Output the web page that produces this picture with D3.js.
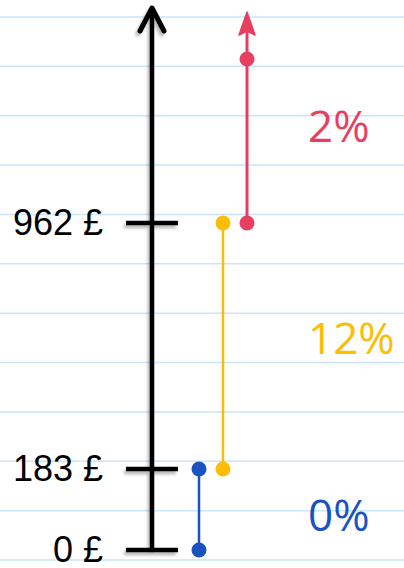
<!DOCTYPE html>
<html>
<head>
<meta charset="utf-8">
<script src="https://cdn.jsdelivr.net/npm/d3@7"></script>
<style>
  html, body { margin: 0; padding: 0; background: #fff; }
  svg { display: block; }
</style>
</head>
<body>
<svg id="chart" width="404" height="568"></svg>
<script>
// income thresholds (£) shown on the axis
const thresholds = [0, 183, 962]
const tickLabels = ['0 £', '183 £', '962 £']
// rate bands: from threshold to next threshold (last one is open ended)
const bandRates = ['0%', '12%', '2%']
const bandColors = ['#1a52c2', '#fdbd06', '#e73f62']

const width = 404
const height = 568
const svg = d3.select('#chart')

const defs = svg.append('defs')
const shadow = defs.append('filter').attr('id', 'shadow').attr('x', '-50%').attr('y', '-50%').attr('width', '200%').attr('height', '200%')
shadow.append('feDropShadow').attr('dx', -2).attr('dy', 3).attr('stdDeviation', 1.6).attr('flood-color', '#000').attr('flood-opacity', 0.28)

// notebook lines
const ruleScale = d3.scaleLinear().domain([0, 11]).range([17, 560])
svg.append('g')
	.selectAll('line')
	.data(d3.range(12))
	.join('line')
	.attr('x1', 0)
	.attr('x2', width)
	.attr('y1', d => ruleScale(d))
	.attr('y2', d => ruleScale(d))
	.attr('stroke', '#c9e5f7')
	.attr('stroke-width', 1.5)

// schematic (not proportional) vertical scale
const y = d3.scaleLinear().domain(thresholds).range([550, 469, 223])
const openTop = 59
const axisX = 152

const bandX = d3.scalePoint().domain(bandRates).range([199, 247])

const bands = bandRates.map((rate, i) => ({
	rate,
	color: bandColors[i],
	y0: y(thresholds[i]),
	y1: i + 1 < thresholds.length ? y(thresholds[i + 1]) : openTop,
	open: i + 1 >= thresholds.length,
}))

// axis
const axis = svg.append('g').attr('filter', 'url(#shadow)').attr('stroke', '#000').attr('fill', 'none').attr('stroke-linecap', 'round').attr('stroke-linejoin', 'round')
axis.append('line').attr('x1', axisX).attr('x2', axisX).attr('y1', y(0)).attr('y2', 9).attr('stroke-width', 4.5)
axis.append('path').attr('d', `M${axisX - 12},31 L${axisX},8 L${axisX + 12},31`).attr('stroke-width', 5)
axis.selectAll('.tick')
	.data(thresholds)
	.join('line')
	.attr('class', 'tick')
	.attr('x1', axisX - 26)
	.attr('x2', axisX + 26)
	.attr('y1', d => y(d))
	.attr('y2', d => y(d))
	.attr('stroke-width', 4.5)
	.attr('stroke-linecap', 'butt')

svg.append('g')
	.selectAll('text')
	.data(thresholds)
	.join('text')
	.attr('x', 103)
	.attr('y', d => y(d) + 12)
	.attr('text-anchor', 'end')
	.style('font-family', "'Liberation Sans', Arial, sans-serif")
	.style('font-size', '36px')
	.attr('fill', '#000')
	.text((d, i) => tickLabels[i])

// band segments
const segs = svg.append('g')
segs.selectAll('line')
	.data(bands)
	.join('line')
	.attr('x1', d => bandX(d.rate))
	.attr('x2', d => bandX(d.rate))
	.attr('y1', d => d.y0)
	.attr('y2', d => (d.open ? 22 : d.y1))
	.attr('stroke', d => d.color)
	.attr('stroke-width', d => (d.open ? 3 : 2.5))

bands.filter(d => d.open).forEach(d => {
	const x = bandX(d.rate)
	segs.append('path')
		.attr('d', `M${x},12 L${x + 8},35 L${x},31 L${x - 8},35 Z`)
		.attr('fill', d.color)
		.attr('stroke', d.color)
		.attr('stroke-width', 1.5)
		.attr('stroke-linejoin', 'round')
})

segs.selectAll('.dot')
	.data(bands.flatMap(d => [{ ...d, cy: d.y0 }, { ...d, cy: d.y1 }]))
	.join('circle')
	.attr('class', 'dot')
	.attr('cx', d => bandX(d.rate))
	.attr('cy', d => d.cy)
	.attr('r', 7.5)
	.attr('fill', d => d.color)

// rate labels, placed near the middle of each band
const labelY = d => (d.open ? (d.y0 + d.y1) / 2 - 14 : (d.y0 + d.y1) / 2 + (d.y0 - d.y1 > 150 ? -7 : 6))
svg.append('g')
	.selectAll('text')
	.data(bands)
	.join('text')
	.attr('x', 308)
	.attr('y', d => labelY(d) + 15)
	.style('font-family', "'Open Sans', sans-serif")
	.style('font-size', '44px')
	.style('font-weight', 500)
	.attr('fill', d => d.color)
	.text(d => d.rate)
</script>
</body>
</html>
